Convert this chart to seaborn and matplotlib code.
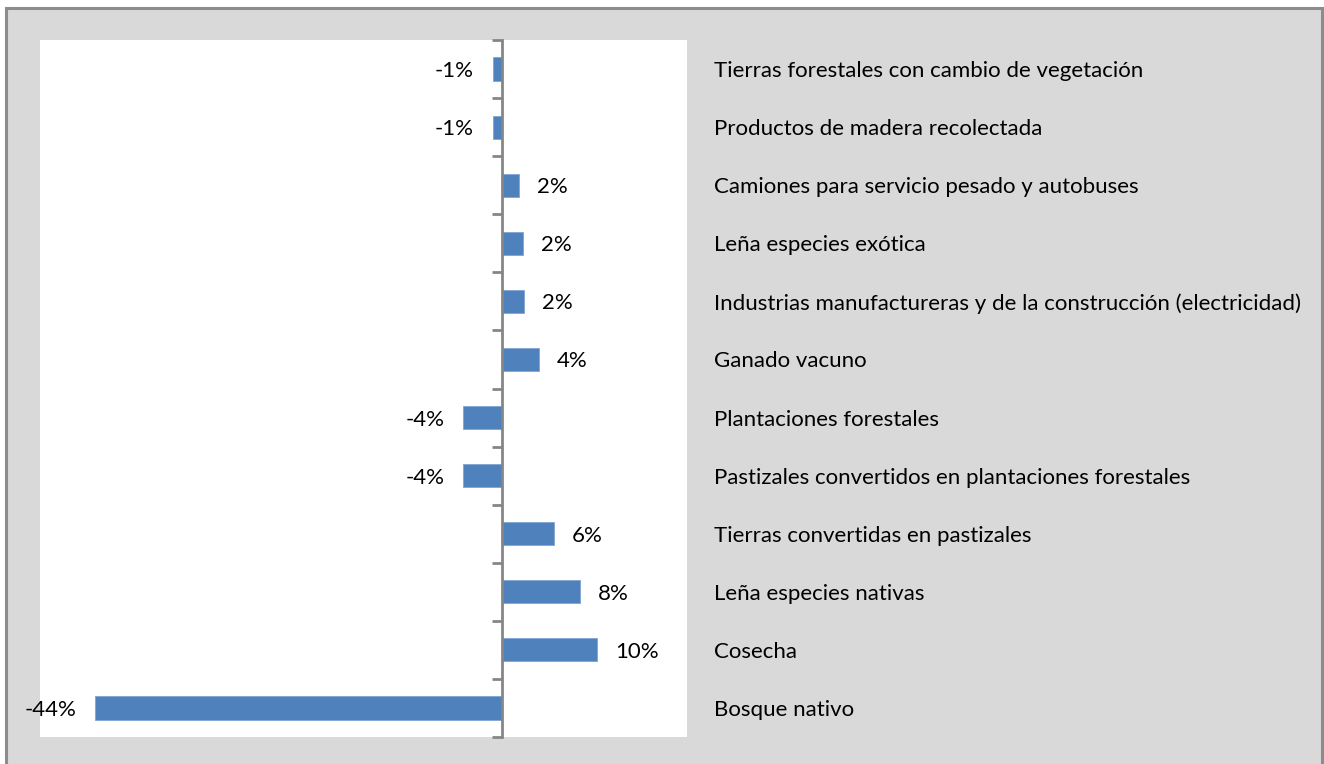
import matplotlib
matplotlib.use("Agg")
import matplotlib.pyplot as plt
import matplotlib.transforms as mtransforms
from matplotlib.patches import Rectangle
import seaborn as sns
import pandas as pd

# Share of change per category (percent)
categories = [
    "Tierras forestales con cambio de vegetación",
    "Productos de madera recolectada",
    "Camiones para servicio pesado y autobuses",
    "Leña especies exótica",
    "Industrias manufactureras y de la construcción (electricidad)",
    "Ganado vacuno",
    "Plantaciones forestales",
    "Pastizales convertidos en plantaciones forestales",
    "Tierras convertidas en pastizales",
    "Leña especies nativas",
    "Cosecha",
    "Bosque nativo",
]
values = [-1.0, -1.0, 1.8, 2.3, 2.4, 4.0, -4.2, -4.2, 5.6, 8.4, 10.3, -44.0]

df = pd.DataFrame({"categoria": categories, "valor": values})

sns.set_theme(style="white")
plt.rcParams["font.family"] = ["Lato", "DejaVu Sans"]

W, H = 1324, 764
FS = 16
fig = plt.figure(figsize=(W / 100, H / 100), dpi=100, facecolor="white")

# Gray chart frame behind everything
frame = Rectangle((6 / W, -0.05), (1322 - 6) / W, 1 - 8 / H + 0.05,
                  transform=fig.transFigure, facecolor="#D9D9D9",
                  edgecolor="#8C8C8C", linewidth=2.2, zorder=-10)
fig.add_artist(frame)

ax = fig.add_axes([40 / W, 1 - 737 / H, (687 - 40) / W, (737 - 40) / H])
ax.set_zorder(1)
ax.set_facecolor("white")

sns.barplot(data=df, y="categoria", x="valor", order=categories, orient="h",
            color="#4F81BD", width=0.4, saturation=1, edgecolor="#7FA4D3",
            linewidth=0.6, ax=ax)

ax.set_xlim(-50, 20)
ax.set_ylim(len(categories) - 0.5, -0.5)
ax.set_xlabel("")
ax.set_ylabel("")
ax.set_xticks([])

for s in ["top", "right", "bottom"]:
    ax.spines[s].set_visible(False)
ax.spines["left"].set_position(("data", 0))
ax.spines["left"].set_color("#868686")
ax.spines["left"].set_linewidth(2)
ax.spines["left"].set_zorder(3)

ax.set_yticks([i - 0.5 for i in range(len(categories) + 1)])
ax.set_yticklabels([])
ax.tick_params(axis="y", which="major", direction="out", length=7, width=2,
               color="#868686", left=True)

# Value labels beside each bar
for i, v in enumerate(values):
    label = f"{v:.0f}%"
    if v >= 0:
        ax.annotate(label, (v, i), xytext=(18, -2), textcoords="offset pixels",
                    ha="left", va="center", fontsize=FS, color="black",
                    annotation_clip=False)
    else:
        ax.annotate(label, (v, i), xytext=(-19, -2), textcoords="offset pixels",
                    ha="right", va="center", fontsize=FS, color="black",
                    annotation_clip=False)

# Category names in the frame to the right of the plot area
trans = mtransforms.blended_transform_factory(ax.transAxes, ax.transData)
x_lab = (714 - 40) / (687 - 40)
for i, c in enumerate(categories):
    ax.annotate(c, (x_lab, i), xycoords=trans, xytext=(0, -2),
                textcoords="offset pixels", ha="left", va="center",
                fontsize=FS, color="black", annotation_clip=False)

fig.savefig("out.png", dpi=100, facecolor=fig.get_facecolor())
